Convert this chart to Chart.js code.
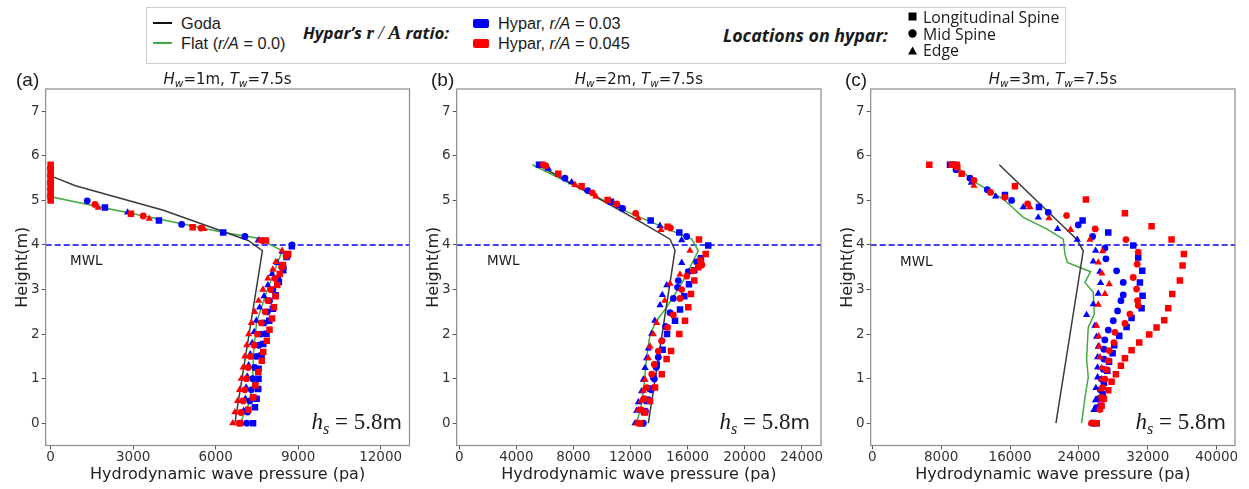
<!DOCTYPE html>
<html><head><meta charset="utf-8">
<script src="https://cdn.jsdelivr.net/npm/chart.js@4.4.0/dist/chart.umd.min.js"></script>
<style>
html,body{margin:0;padding:0;background:#fff;width:1249px;height:489px;overflow:hidden;position:relative;}
canvas.c{position:absolute;top:0;}
.t{position:absolute;white-space:nowrap;color:#1a1a1a;}
.t sub{font-size:70%;line-height:0;vertical-align:-0.3em;}
.lg{font-family:"Liberation Sans",Arial,sans-serif;font-size:16.3px;line-height:18px;}
.lb{font-family:"Open Sans",Lato,sans-serif;font-weight:bold;font-style:italic;line-height:20px;}
.lc{font-family:"Open Sans",Lato,sans-serif;font-size:15.8px;line-height:16px;}
.ttl{font-family:"DejaVu Sans",sans-serif;font-size:15px;line-height:20px;text-align:center;width:240px;}
.pl{font-family:"Liberation Sans",Arial,sans-serif;font-size:19px;line-height:22px;}
.mwl{font-family:"DejaVu Sans",sans-serif;font-size:13.5px;line-height:16px;}
.hs{font-family:"Liberation Serif",serif;font-size:23px;line-height:26px;text-align:right;width:120px;}
</style></head><body>
<canvas id="ca" class="c" style="left:0px;width:416px;height:489px" width="416" height="489"></canvas>
<canvas id="cb" class="c" style="left:416px;width:416px;height:489px" width="416" height="489"></canvas>
<canvas id="cc" class="c" style="left:832px;width:417px;height:489px" width="417" height="489"></canvas>

<!-- legend -->
<div style="position:absolute;left:146px;top:7px;width:918px;height:55px;border:1px solid #cfcfcf;background:#fff;"></div>
<div style="position:absolute;left:153px;top:22px;width:19px;height:2px;background:#111;"></div>
<div class="t lg" style="left:181px;top:14px;">Goda</div>
<div style="position:absolute;left:153px;top:42px;width:19px;height:2px;background:#3fae49;"></div>
<div class="t lg" style="left:181px;top:34px;">Flat (<i>r/A</i> = 0.0)</div>
<div class="t lb" style="left:303px;top:23px;font-size:16.8px;">Hypar’s <span style="font-family:'Liberation Serif',serif;font-size:19.5px;font-weight:bold;font-style:italic;">r</span> <span style="font-family:'Liberation Serif',serif;font-size:19.5px;font-weight:normal;">/</span> <span style="font-family:'Liberation Serif',serif;font-size:19.5px;font-weight:bold;font-style:italic;">A</span> ratio:</div>
<div style="position:absolute;left:473px;top:19px;width:16px;height:9px;background:#0000ff;border-radius:2px;"></div>
<div style="position:absolute;left:473px;top:39px;width:16px;height:9px;background:#ff0000;border-radius:2px;"></div>
<div class="t lg" style="left:498px;top:14px;">Hypar, <i>r/A</i> = 0.03</div>
<div class="t lg" style="left:498px;top:34px;">Hypar, <i>r/A</i> = 0.045</div>
<div class="t lb" style="left:723px;top:25px;font-size:17.8px;">Locations on hypar:</div>
<svg style="position:absolute;left:905px;top:9px" width="16" height="50">
<rect x="3.5" y="3.5" width="8" height="8" fill="#000"/>
<circle cx="7.5" cy="24.5" r="4.2" fill="#000"/>
<polygon points="7.5,37.5 12,45.5 3,45.5" fill="#000"/>
</svg>
<div class="t lc" style="left:923px;top:8.5px;">Longitudinal Spine</div>
<div class="t lc" style="left:923px;top:25.5px;">Mid Spine</div>
<div class="t lc" style="left:923px;top:41.5px;">Edge</div>

<!-- panel annotations -->
<div class="t pl" style="left:16px;top:69px;">(a)</div>
<div class="t pl" style="left:431px;top:69px;">(b)</div>
<div class="t pl" style="left:845px;top:69px;">(c)</div>
<div class="t ttl" style="left:107.6px;top:69px;"><i>H<sub>w</sub></i>=1m, <i>T<sub>w</sub></i>=7.5s</div>
<div class="t ttl" style="left:518.9px;top:69px;"><i>H<sub>w</sub></i>=2m, <i>T<sub>w</sub></i>=7.5s</div>
<div class="t ttl" style="left:932.9px;top:69px;"><i>H<sub>w</sub></i>=3m, <i>T<sub>w</sub></i>=7.5s</div>
<div class="t mwl" style="left:70px;top:252px;">MWL</div>
<div class="t mwl" style="left:487px;top:252px;">MWL</div>
<div class="t mwl" style="left:900px;top:253px;">MWL</div>
<div class="t hs" style="left:282px;top:409px;"><i>h<sub>s</sub></i> = 5.8<span style="font-family:'DejaVu Sans';font-size:20px">m</span></div>
<div class="t hs" style="left:690px;top:409px;"><i>h<sub>s</sub></i> = 5.8<span style="font-family:'DejaVu Sans';font-size:20px">m</span></div>
<div class="t hs" style="left:1106px;top:409px;"><i>h<sub>s</sub></i> = 5.8<span style="font-family:'DejaVu Sans';font-size:20px">m</span></div>

<script>
// ---------- tick labels ----------
const yTicks = [0,1,2,3,4,5,6,7];
const aTicksX = [0,3000,6000,9000,12000];
const bTicksX = [0,4000,8000,12000,16000,20000,24000];
const cTicksX = [0,8000,16000,24000,32000,40000];
const mwlLevel = 4;

// ---------- panel (a) Hw=1m : [pressure (pa), height (m)] ----------
const aGoda = [[0,5.55],[900,5.33],[4100,4.78],[7185,4.10],[7700,3.87],[6700,0]];
const aFlat = [[0,5.80],[0,5.08],[3000,4.70],[6300,4.28],[7550,4.15],[8420,3.87],[7850,2.94],[7490,2.27],[7367,1.52],[7345,0.85],[7185,0.40],[6883,0]];
const aBlueSq = [[1975,4.84],[3938,4.55],[6276,4.28],[8770,3.97],[8580,3.73],[8460,3.43],[8300,3.17],[8180,2.87],[8080,2.57],[7950,2.30],[7850,2.01],[7730,1.78],[7670,1.52],[7560,1.22],[7560,1.00],[7550,0.77],[7490,0.55],[7430,0.36],[7360,0]];
const aRedSq = [[0,5.80],[0,5.70],[0,5.60],[0,5.50],[0,5.40],[0,5.30],[0,5.20],[0,5.10],[0,5.00],[2920,4.70],[5163,4.40],[7830,4.10],[8640,3.80],[8450,3.55],[8330,3.35],[8240,3.10],[8180,2.85],[8120,2.60],[8050,2.35],[7960,2.10],[7860,1.85],[7730,1.60],[7680,1.40],[7550,1.15],[7450,0.85],[7370,0.58],[7190,0.30],[6880,0]];
const aBlueCirc = [[0,5.72],[0,5.55],[0,5.40],[0,5.25],[0,5.10],[1331,4.99],[4763,4.46],[7065,4.19],[8780,4.00],[8620,3.75],[8460,3.50],[8260,3.25],[8080,3.00],[7960,2.75],[7880,2.50],[7760,2.25],[7650,2.00],[7570,1.75],[7480,1.50],[7420,1.25],[7350,1.00],[7300,0.75],[7240,0.50],[7160,0.25],[7130,0]];
const aRedCirc = [[1611,4.91],[3367,4.65],[5465,4.38],[7700,4.10],[8560,3.75],[8400,3.50],[8160,3.25],[8000,3.00],[7900,2.75],[7800,2.50],[7660,2.25],[7520,2.00],[7400,1.75],[7270,1.50],[7180,1.25],[7120,1.00],[7060,0.75],[7000,0.50],[6920,0.24],[6860,0]];
const aBlueTri = [[2800,4.73],[7549,4.10],[8420,3.85],[8250,3.60],[8050,3.35],[7900,3.10],[7760,2.85],[7600,2.60],[7480,2.30],[7400,2.05],[7330,1.80],[7260,1.55],[7200,1.30],[7150,1.05],[7110,0.80],[7080,0.55],[7020,0.28],[6950,0]];
const aRedTri = [[1731,4.84],[3585,4.59],[5574,4.36],[7600,4.10],[8420,3.87],[8190,3.62],[8080,3.45],[7900,3.25],[7720,3.00],[7560,2.75],[7420,2.50],[7300,2.25],[7200,2.00],[7130,1.75],[7060,1.50],[7000,1.25],[6930,1.00],[6870,0.75],[6800,0.50],[6700,0.25],[6620,0]];

// ---------- panel (b) Hw=2m ----------
const bGoda = [[5500,5.80],[12430,4.57],[14770,4.13],[15120,3.88],[14650,2.90],[13250,0]];
const bFlat = [[5117,5.80],[11845,4.73],[16290,4.13],[16750,3.87],[16400,3.65],[15700,3.20],[15120,2.90],[14530,2.60],[13830,2.30],[13370,2.00],[13130,1.48],[12950,0.88],[12780,0.43],[12430,0]];
const bBlueSq = [[5585,5.80],[10631,4.97],[13411,4.55],[15420,4.28],[17450,3.99],[16940,3.70],[16470,3.43],[16100,3.12],[15770,2.85],[15470,2.55],[15120,2.30],[14560,2.00],[14250,1.65],[13840,1.31],[13600,1.05],[13370,0.78],[13150,0.50],[12950,0.25],[12780,0]];
const bRedSq = [[6940,5.60],[8575,5.32],[10397,5.01],[14602,4.41],[16797,4.12],[17270,3.80],[16900,3.65],[16750,3.50],[16470,3.20],[16240,2.90],[16050,2.60],[15820,2.30],[15420,2.00],[14840,1.62],[14530,1.44],[14190,1.10],[13720,0.80],[13370,0.50],[13020,0.24],[12670,0]];
const bBlueCirc = [[7407,5.50],[8995,5.22],[11448,4.82],[15933,4.19],[16640,3.62],[16050,3.40],[15350,3.20],[15300,3.05],[15000,2.80],[14770,2.48],[14460,2.17],[14200,1.85],[13950,1.48],[13800,1.25],[13670,0.99],[13450,0.75],[13250,0.53],[13050,0.27],[12900,0]];
const bRedCirc = [[5889,5.80],[6052,5.78],[9322,5.17],[11028,4.92],[12360,4.71],[14800,4.38],[17000,3.55],[16400,3.42],[15940,3.30],[15590,3.00],[15470,2.80],[15000,2.43],[14600,2.15],[14190,1.85],[13950,1.62],[13670,1.32],[13490,1.10],[13130,0.80],[12950,0.55],[12750,0.30],[12550,0]];
const bBlueTri = [[6239,5.71],[7874,5.41],[11200,4.87],[14064,4.43],[15583,4.11],[15590,3.60],[14540,3.10],[14230,2.88],[14070,2.65],[13700,2.30],[13490,2.01],[13250,1.68],[13130,1.46],[13020,1.24],[12900,0.98],[12780,0.72],[12550,0.47],[12430,0.28],[12320,0]];
const bRedTri = [[8108,5.35],[9579,5.09],[12546,4.60],[14135,4.34],[16167,3.87],[15470,3.34],[14770,3.13],[14400,2.75],[13840,2.25],[13600,2.00],[13370,1.72],[13250,1.46],[13020,0.98],[12900,0.73],[12740,0.50],[12550,0.30],[12430,0]];

// ---------- panel (c) Hw=3m ----------
const cGoda = [[14750,5.80],[23730,4.13],[24500,3.87],[21330,0]];
const cFlat = [[9800,5.75],[12120,5.39],[15210,5.03],[17540,4.62],[20240,4.36],[22180,4.13],[22370,3.80],[22650,3.61],[24040,3.50],[25350,3.40],[24700,3.16],[25660,2.94],[25780,2.45],[25080,2.15],[24890,1.44],[25080,1.03],[24700,0.58],[24310,0]];
const cBlueSq = [[9021,5.80],[9485,5.80],[15406,5.12],[19354,4.85],[24424,4.55],[27404,4.28],[30306,3.99],[30886,3.72],[31352,3.42],[31081,3.16],[31390,2.86],[31274,2.58],[30113,2.36],[29533,2.16],[28681,1.96],[28100,1.75],[27907,1.57],[27500,1.38],[27288,1.18],[26900,0.91],[26750,0.65],[26553,0.39],[26050,0]];
const cRedSq = [[6620,5.80],[9215,5.80],[9795,5.80],[9872,5.75],[10376,5.60],[16568,5.32],[24811,5.02],[29339,4.71],[32435,4.42],[34757,4.12],[36189,3.80],[36035,3.54],[35724,3.20],[34838,2.90],[34370,2.58],[33905,2.31],[33015,2.15],[32164,1.99],[31003,1.81],[30113,1.64],[29340,1.46],[28875,1.29],[28294,1.10],[27791,0.93],[27404,0.74],[26900,0.55],[26630,0.39],[26050,0]];
const cBlueCirc = [[9718,5.69],[11343,5.50],[13355,5.24],[16181,5.00],[20437,4.73],[23920,4.45],[25585,4.19],[27017,3.93],[27135,3.69],[28371,3.42],[29145,3.16],[29145,2.88],[28875,2.75],[28487,2.52],[27984,2.30],[27404,2.09],[27017,1.87],[26900,1.66],[26900,1.44],[26823,1.21],[26630,0.99],[26500,0.75],[26300,0.55],[26049,0.35],[25662,0]];
const cRedCirc = [[11807,5.45],[13742,5.18],[15406,5.07],[18038,4.92],[22566,4.66],[25894,4.36],[29455,4.12],[30886,3.84],[30770,3.57],[30306,3.27],[30693,3.01],[30809,2.75],[30886,2.64],[29920,2.45],[29340,2.24],[28178,2.04],[28062,1.81],[27520,1.63],[27404,1.40],[27200,1.20],[27017,0.99],[26746,0.80],[26630,0.58],[26436,0.31],[25469,0]];
const cBlueTri = [[11500,5.40],[14323,5.09],[17535,4.85],[19276,4.62],[21522,4.36],[23804,4.12],[25933,3.87],[25662,3.63],[26436,3.40],[26513,3.15],[26242,2.91],[25662,2.67],[24888,2.43],[25856,2.19],[26049,1.94],[26242,1.72],[26165,1.48],[26165,1.25],[26165,1.03],[25972,0.79],[25933,0.52],[25740,0.30],[25469,0]];
const cRedTri = [[11807,5.33],[18309,4.85],[20515,4.60],[23030,4.34],[25275,4.12],[26746,3.86],[26242,3.61],[26668,3.36],[27519,3.12],[27017,2.90],[26242,2.66],[26049,2.19],[26300,1.95],[26359,1.72],[26436,1.48],[26630,1.24],[26630,0.99],[26514,0.76],[26630,0.54],[26436,0.31],[25856,0]];

// ---------- styles ----------
const BLUE = '#0000ff', RED = '#ff0000', GODA = '#3a3a3a', FLAT = '#45a845';
const PLOT_TOP = 89, PLOT_BOTTOM = 445.5, X_AXIS_H = 40, CANVAS_H = 489;

function pts(arr){ return arr.map(p => ({x:p[0], y:p[1]})); }
function scat(arr, color, style, r){
  return {data: pts(arr), showLine:false, pointStyle:style, pointRadius:r, pointHoverRadius:r,
          backgroundColor:color, borderColor:color, borderWidth:0};
}
function line(arr, color, w, dash){
  return {data: pts(arr), showLine:true, pointRadius:0, borderColor:color, borderWidth:w,
          borderDash: dash || [], tension:0, fill:false};
}

const framePlugin = {
  id:'frame',
  afterDraw(chart){
    const {ctx, chartArea:a} = chart;
    ctx.save();
    ctx.strokeStyle = '#8a8a8a';
    ctx.lineWidth = 1.2;
    ctx.strokeRect(a.left, a.top, a.right - a.left, a.bottom - a.top);
    ctx.restore();
  }
};

function makePanel(id, canvasLeft, canvasWidth, plotLeft, plotRight, yTitleX, xMin, xMax, xTicks, d){
  const padL = 0.5;
  const yW = plotLeft - canvasLeft - padL;
  const padR = canvasLeft + canvasWidth - plotRight;
  const padB = CANVAS_H - PLOT_BOTTOM - X_AXIS_H;
  const yTitlePad = yTitleX - canvasLeft - padL - 9.6;
  const datasets = [
    scat(d.redSq, RED, 'rect', 4.6),
    scat(d.redCirc, RED, 'circle', 3.4),
    scat(d.redTri, RED, 'triangle', 4.2),
    scat(d.blueSq, BLUE, 'rect', 4.6),
    scat(d.blueCirc, BLUE, 'circle', 3.4),
    scat(d.blueTri, BLUE, 'triangle', 4.2),
    line(d.goda, GODA, 1.5),
    line(d.flat, FLAT, 1.5),
    line([[xMin, mwlLevel],[xMax, mwlLevel]], BLUE, 1.5, [6,3])
  ];
  new Chart(document.getElementById(id), {
    type:'scatter',
    data:{datasets},
    options:{
      responsive:false, animation:false, devicePixelRatio:1,
      layout:{padding:{left:padL, right:padR, top:PLOT_TOP, bottom:padB}},
      plugins:{legend:{display:false}, tooltip:{enabled:false}},
      scales:{
        x:{type:'linear', position:'bottom', min:xMin, max:xMax,
           afterBuildTicks: s => { s.ticks = xTicks.map(v => ({value:v})); },
           afterFit: s => { s.height = X_AXIS_H; s.paddingLeft = 0; s.paddingRight = 0; },
           grid:{drawOnChartArea:false, drawTicks:true, tickLength:4, color:'#555'},
           border:{display:false},
           ticks:{color:'#333', font:{family:'DejaVu Sans', size:13.5}, padding:0, maxRotation:0, autoSkip:false,
                  callback: v => String(v)},
           title:{display:true, text:'Hydrodynamic wave pressure (pa)', color:'#222',
                  font:{family:'DejaVu Sans', size:16}, padding:{top:0, bottom:1}}
        },
        y:{type:'linear', position:'left', min:-0.5, max:7.5,
           afterBuildTicks: s => { s.ticks = yTicks.map(v => ({value:v})); },
           afterFit: s => { s.width = yW; s.paddingTop = 0; s.paddingBottom = 0; },
           grid:{drawOnChartArea:false, drawTicks:true, tickLength:4, color:'#555'},
           border:{display:false},
           ticks:{color:'#333', font:{family:'DejaVu Sans', size:13.5}, padding:2, autoSkip:false,
                  callback: v => String(v)},
           title:{display:true, text:'Height(m)', color:'#222',
                  font:{family:'DejaVu Sans', size:16}, padding:{top:yTitlePad, bottom:0}}
        }
      }
    },
    plugins:[framePlugin]
  });
}

makePanel('ca', 0, 416, 45.7, 409.5, 22.5, -180, 13050, aTicksX,
  {goda:aGoda, flat:aFlat, blueSq:aBlueSq, redSq:aRedSq, blueCirc:aBlueCirc, redCirc:aRedCirc, blueTri:aBlueTri, redTri:aRedTri});
makePanel('cb', 416, 416, 456.7, 821, 434, -180, 25350, bTicksX,
  {goda:bGoda, flat:bFlat, blueSq:bBlueSq, redSq:bRedSq, blueCirc:bBlueCirc, redCirc:bRedCirc, blueTri:bBlueTri, redTri:bRedTri});
makePanel('cc', 832, 417, 870.7, 1235, 847.5, -186, 42125, cTicksX,
  {goda:cGoda, flat:cFlat, blueSq:cBlueSq, redSq:cRedSq, blueCirc:cBlueCirc, redCirc:cRedCirc, blueTri:cBlueTri, redTri:cRedTri});
</script>
</body></html>
